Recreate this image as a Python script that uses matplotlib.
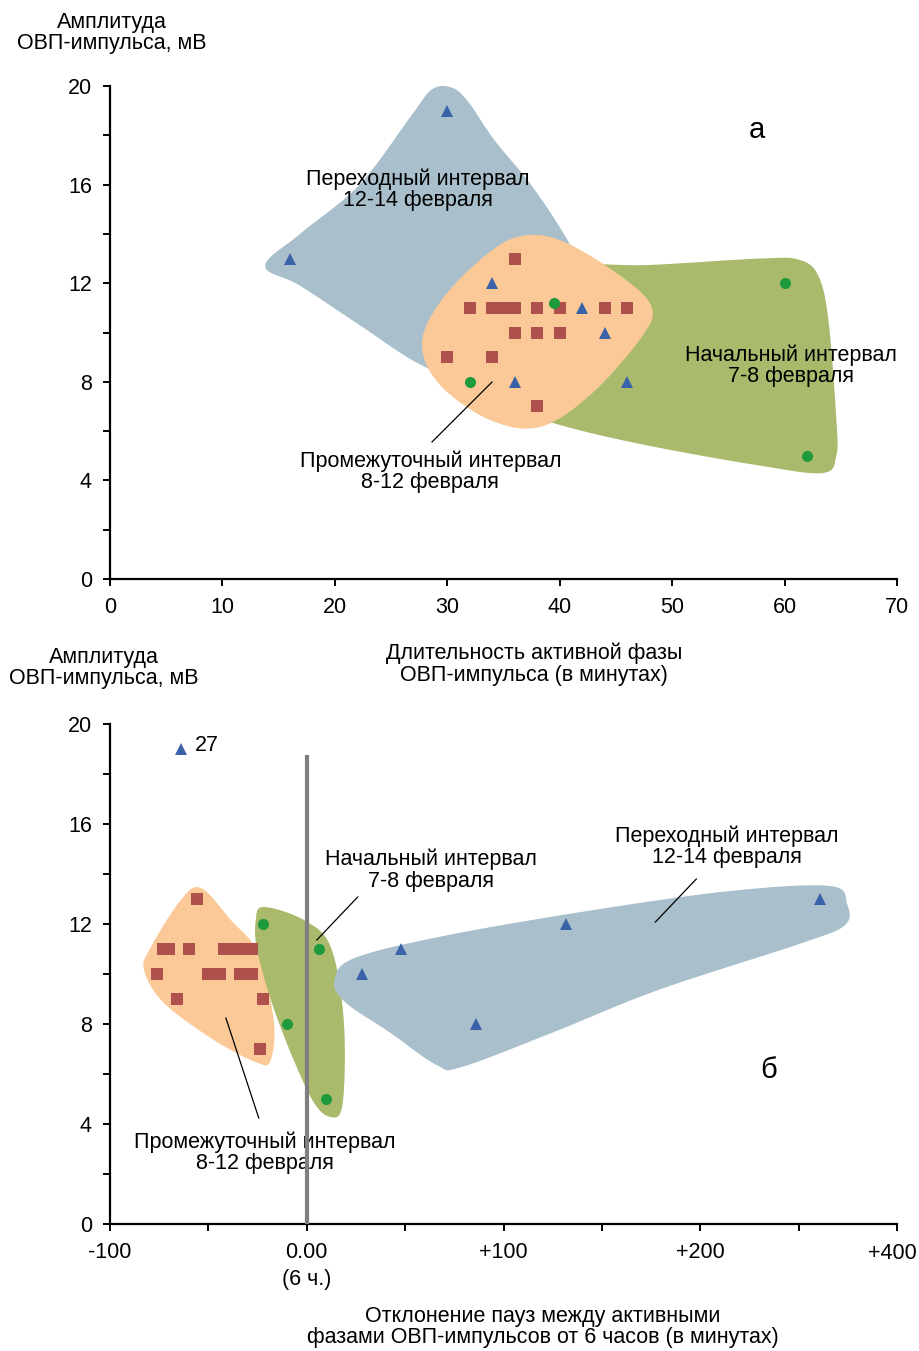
import numpy as np
import matplotlib
matplotlib.use("Agg")
import matplotlib.pyplot as plt
from matplotlib.patches import Polygon

plt.rcParams['font.family'] = ['Liberation Sans', 'DejaVu Sans']
FS = 15.5

# ---- panel a: duration of active phase vs amplitude ----
a_start_x = [60, 62, 32, 39.5]           # начальный интервал 7-8 февраля
a_start_y = [12, 5, 8, 11.2]
a_mid_x = [36, 32, 34, 35, 36, 38, 40, 44, 46, 36, 38, 40, 30, 34, 38]   # промежуточный
a_mid_y = [13, 11, 11, 11, 11, 11, 11, 11, 11, 10, 10, 10, 9, 9, 7]
a_trans_x = [16, 30, 34, 42, 44, 36, 46]  # переходный
a_trans_y = [13, 19, 12, 11, 10, 8, 8]

# ---- panel b: deviation of pauses from 6 h vs amplitude ----
b_start_x = [-22, 6, -10, 10]
b_start_y = [12, 11, 8, 5]
b_mid_x = [-56, -73, -70, -60, -42, -36, -31, -28, -76, -50, -44, -34, -28, -66, -22, -24]
b_mid_y = [13, 11, 11, 11, 11, 11, 11, 11, 10, 10, 10, 10, 10, 9, 9, 7]
b_trans_x = [-64, 28, 48, 86, 132, 261]
b_trans_y = [19, 10, 11, 8, 12, 13]

# outlines of the shaded groups (data coordinates)
a_blue_zone = [(13.8, 12.7), (16.9, 14.0), (22.2, 16.0), (26.8, 18.8), (28.6, 19.85),
               (30.3, 19.95), (31.8, 19.4), (34.2, 17.8), (37.6, 15.9), (41.0, 13.5), (43.6, 10.9),
               (40.0, 8.9), (32.0, 8.1), (27.6, 8.7), (22.2, 10.3), (16.9, 11.9)]
a_green_zone = [(28.5, 9.3), (34.7, 11.3), (40.0, 12.66), (48.0, 12.74), (57.8, 13.0),
                (61.3, 12.95), (63.0, 12.3), (63.9, 10.5), (64.6, 6.5), (64.6, 5.0),
                (63.4, 4.3), (57.8, 4.6), (48.0, 5.4), (40.0, 6.25), (32.0, 7.46), (28.9, 8.3)]
a_orange_zone = [(27.75, 9.5), (29.3, 11.2), (32.9, 12.94), (36.2, 13.87), (40.0, 13.75),
                 (45.4, 12.3), (48.2, 11.0), (47.1, 9.7), (42.7, 7.46), (38.25, 6.17),
                 (33.8, 6.45), (29.35, 7.87)]

b_blue_zone = [(14.2, 9.8), (24.4, 10.64), (69.5, 11.52), (142.6, 12.52), (215.2, 13.32),
               (266, 13.52), (274.6, 12.8), (273.6, 11.96), (251.8, 11.24), (178.7, 9.36),
               (124.4, 7.64), (78.7, 6.28), (66, 6.36), (42.6, 7.64), (18.8, 8.92)]
b_green_zone = [(-21.8, 12.68), (-1.5, 12.16), (12.2, 11.08), (18.8, 8.16), (18.3, 4.84),
                (12.2, 4.28), (2.0, 5.08), (-14.7, 8.16), (-24.9, 10.84), (-25.9, 12.16)]
b_orange_zone = [(-53.8, 13.44), (-38.6, 12.16), (-24.9, 10.84), (-16.8, 8.16), (-18.3, 6.56),
                 (-24.9, 6.44), (-47.2, 7.36), (-72.6, 8.84), (-82.7, 10.16), (-79.2, 11.08),
                 (-64, 12.96)]

C_BLUE_Z = '#a9bfcb'
C_GREEN_Z = '#a9ba6c'
C_ORANGE_Z = '#fac997'
C_TRI = '#3a62a8'
C_SQ = '#b0504c'
C_DOT = '#1e9a3c'


def smooth(pts, n=24):
    # closed catmull-rom curve through the outline points
    p = np.asarray(pts, float)
    N = len(p)
    t = np.linspace(0, 1, n, endpoint=False)[:, None]
    out = []
    for i in range(N):
        p0, p1, p2, p3 = p[i - 1], p[i], p[(i + 1) % N], p[(i + 2) % N]
        out.append(0.5 * (2 * p1 + (-p0 + p2) * t + (2 * p0 - 5 * p1 + 4 * p2 - p3) * t ** 2
                          + (-p0 + 3 * p1 - 3 * p2 + p3) * t ** 3))
    return np.vstack(out)


def zone(ax, pts, color, z):
    ax.add_patch(Polygon(smooth(pts), closed=True, facecolor=color, edgecolor='none', zorder=z))


def points(ax, sx, sy, mx, my, tx, ty):
    ax.plot(mx, my, 's', color=C_SQ, ms=8.7, mew=0, zorder=5)
    ax.plot(tx, ty, '^', color=C_TRI, ms=8.7, mew=0, zorder=6)
    ax.plot(sx, sy, 'o', color=C_DOT, ms=8, mew=0, zorder=6)


def style(ax):
    for s in ['top', 'right']:
        ax.spines[s].set_visible(False)
    for s in ['left', 'bottom']:
        ax.spines[s].set_linewidth(1.6)
    ax.tick_params(direction='out', length=5, width=1.4, labelsize=FS, pad=8)


fig = plt.figure(figsize=(9.19, 13.51), dpi=100)
W, H = 919, 1351

# panel a
ax1 = fig.add_axes([110 / W, 1 - 579 / H, 787 / W, 493 / H])
zone(ax1, a_blue_zone, C_BLUE_Z, 1)
zone(ax1, a_green_zone, C_GREEN_Z, 2)
zone(ax1, a_orange_zone, C_ORANGE_Z, 3)
points(ax1, a_start_x, a_start_y, a_mid_x, a_mid_y, a_trans_x, a_trans_y)
ax1.set_xlim(0, 70)
ax1.set_ylim(0, 20)
ax1.set_xticks(range(0, 71, 10))
ax1.set_yticks(range(0, 21, 2))
ax1.set_yticklabels([str(v) if v % 4 == 0 else '' for v in range(0, 21, 2)])
style(ax1)
ax1.text(27.4, 15.8, 'Переходный интервал\n12-14 февраля', ha='center', va='center',
         fontsize=FS, linespacing=1.0, zorder=7)
ax1.text(60.6, 8.65, 'Начальный интервал\n7-8 февраля', ha='center', va='center',
         fontsize=FS, linespacing=1.0, zorder=7)
ax1.text(28.5, 4.35, 'Промежуточный интервал\n8-12 февраля', ha='center', va='center',
         fontsize=FS, linespacing=1.0, zorder=7)
ax1.plot([28.64, 33.98], [5.56, 7.99], color='black', lw=0.9, zorder=7)
ax1.text(57.5, 18.2, 'а', ha='center', va='center', fontsize=21)
fig.text(112 / W, 1 - 33 / H, 'Амплитуда\nОВП-импульса, мВ', ha='center', va='center',
         fontsize=FS, linespacing=1.05)
fig.text(534 / W, 1 - 664 / H, 'Длительность активной фазы\nОВП-импульса (в минутах)',
         ha='center', va='center', fontsize=FS, linespacing=1.05)

# panel b
ax2 = fig.add_axes([110 / W, 1 - 1224 / H, 787 / W, 500 / H])
zone(ax2, b_orange_zone, C_ORANGE_Z, 1)
zone(ax2, b_green_zone, C_GREEN_Z, 2)
zone(ax2, b_blue_zone, C_BLUE_Z, 3)
points(ax2, b_start_x, b_start_y, b_mid_x, b_mid_y, b_trans_x, b_trans_y)
ax2.axvline(0, ymin=0, ymax=18.7 / 20, color='#7f7f7f', lw=3, zorder=8)
ax2.set_xlim(-100, 300)
ax2.set_ylim(0, 20)
ax2.set_xticks(range(-100, 301, 50))
ax2.set_xticklabels(['-100', '', '0.00\n(6 ч.)', '', '+100', '', '+200', '', ''],
                    linespacing=1.35)
ax2.set_yticks(range(0, 21, 2))
ax2.set_yticklabels([str(v) if v % 4 == 0 else '' for v in range(0, 21, 2)])
style(ax2)
ax2.text(297.5, -0.75, '+400', ha='center', va='top', fontsize=FS)
ax2.text(-57, 19.15, '27', ha='left', va='center', fontsize=FS)
ax2.text(62.9, 14.15, 'Начальный интервал\n7-8 февраля', ha='center', va='center',
         fontsize=FS, linespacing=1.0, zorder=7)
ax2.plot([5.1, 25.9], [11.36, 13.08], color='black', lw=0.9, zorder=7)
ax2.text(213.7, 15.1, 'Переходный интервал\n12-14 февраля', ha='center', va='center',
         fontsize=FS, linespacing=1.0, zorder=7)
ax2.plot([177.2, 198], [12.08, 13.8], color='black', lw=0.9, zorder=7)
ax2.text(-21.3, 2.85, 'Промежуточный интервал\n8-12 февраля', ha='center', va='center',
         fontsize=FS, linespacing=1.0, zorder=7)
ax2.plot([-41.1, -24.4], [8.24, 4.24], color='black', lw=0.9, zorder=7)
ax2.text(235, 6.15, 'б', ha='center', va='center', fontsize=21)
fig.text(104 / W, 1 - 668 / H, 'Амплитуда\nОВП-импульса, мВ', ha='center', va='center',
         fontsize=FS, linespacing=1.05)
fig.text(543 / W, 1 - 1327 / H, 'Отклонение пауз между активными\nфазами ОВП-импульсов от 6 часов (в минутах)',
         ha='center', va='center', fontsize=FS, linespacing=1.05)

fig.savefig('out.png', dpi=100)
